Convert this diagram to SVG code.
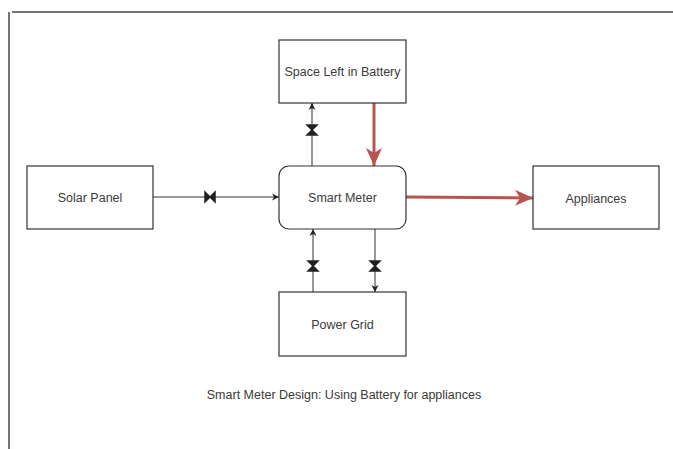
<svg xmlns="http://www.w3.org/2000/svg" width="673" height="449" viewBox="0 0 673 449">
<defs>
<style>
.box{fill:#fff;stroke:#333;stroke-width:1.2}
.lbl{font-family:"Liberation Sans",Arial,sans-serif;font-size:12.5px;fill:#3a3a3a;text-anchor:middle;dominant-baseline:central}
.ln{fill:none;stroke:#333;stroke-width:1}
.red{fill:none;stroke:#b85450;stroke-width:3}
.valve{fill:#222;stroke:#222;stroke-width:1.5;stroke-linejoin:miter}
</style>
<marker id="ah" markerWidth="8" markerHeight="8" refX="7" refY="4" orient="auto" markerUnits="userSpaceOnUse">
<path d="M0,0.5 L7,4 L0,7.5 L2,4 Z" fill="#222"/>
</marker>
<marker id="ahr" markerWidth="20" markerHeight="18" refX="18" refY="9" orient="auto" markerUnits="userSpaceOnUse">
<path d="M0,1 L18,9 L0,17 L5,9 Z" fill="#b85450"/>
</marker>
</defs>
<rect width="673" height="449" fill="#fff"/>
<g id="frame">
<line x1="9" y1="12" x2="9" y2="449" stroke="#444" stroke-width="1.5"/>
<line x1="12" y1="12" x2="673" y2="12" stroke="#444" stroke-width="1.5"/>
</g>
<g id="connectors">
<line class="ln" x1="153" y1="197" x2="279" y2="197" marker-end="url(#ah)"/>
<line class="ln" x1="312" y1="166" x2="312" y2="103" marker-end="url(#ah)" stroke="#777"/>
<line class="ln" x1="313" y1="292" x2="313" y2="229" marker-end="url(#ah)"/>
<line class="ln" x1="375" y1="229" x2="375" y2="292" marker-end="url(#ah)"/>
<line class="red" x1="374" y1="103" x2="374" y2="166" marker-end="url(#ahr)"/>
<line class="red" x1="406" y1="197" x2="533" y2="198" marker-end="url(#ahr)"/>
<path class="valve" d="M205,192 L215,202 L215,192 L205,202 Z"/>
<path class="valve" d="M307,125 L317,125 L307,135 L317,135 Z"/>
<path class="valve" d="M308,261 L318,261 L308,271 L318,271 Z"/>
<path class="valve" d="M370,261 L380,261 L370,271 L380,271 Z"/>
</g>
<g id="space-left">
<rect class="box" x="279" y="40" width="127" height="63"/>
<text class="lbl" x="342.5" y="72">Space Left in Battery</text>
</g>
<g id="solar-panel">
<rect class="box" x="27" y="166" width="126" height="63"/>
<text class="lbl" x="90" y="198">Solar Panel</text>
</g>
<g id="smart-meter">
<rect class="box" x="279" y="166" width="127" height="63" rx="10"/>
<text class="lbl" x="342.5" y="198">Smart Meter</text>
</g>
<g id="appliances">
<rect class="box" x="533" y="166" width="126" height="63"/>
<text class="lbl" x="596" y="199">Appliances</text>
</g>
<g id="power-grid">
<rect class="box" x="279" y="292" width="127" height="64"/>
<text class="lbl" x="342.5" y="325">Power Grid</text>
</g>
<g id="caption">
<text class="lbl" x="344" y="395">Smart Meter Design: Using Battery for appliances</text>
</g>
</svg>
